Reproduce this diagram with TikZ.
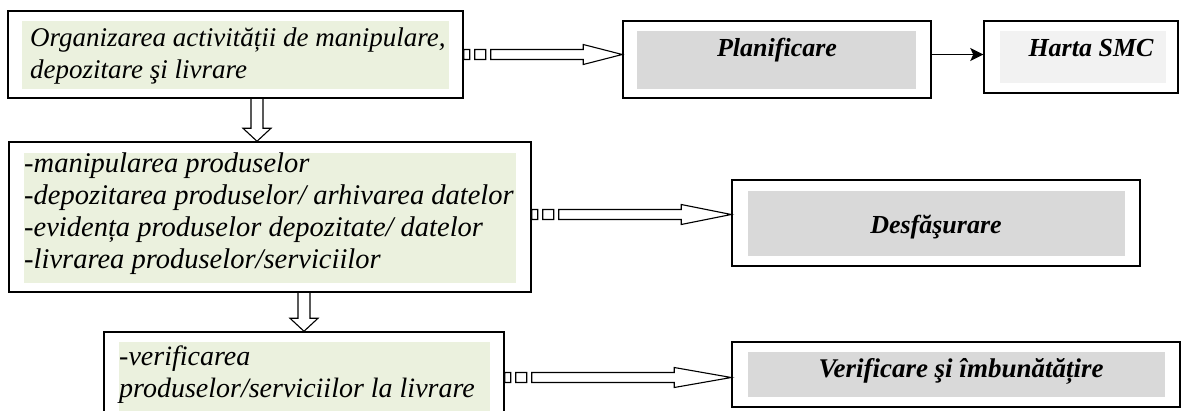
\documentclass[tikz,border=0pt]{standalone}
\usepackage{fontspec}
\setmainfont{Liberation Serif}
\usepackage{tikz}
\usetikzlibrary{positioning}
\usetikzlibrary{calc}
\usetikzlibrary{arrows.meta}

\definecolor{greenfill}{HTML}{EBF1DE}
\definecolor{grayfill}{HTML}{D9D9D9}
\definecolor{lightfill}{HTML}{F2F2F2}

\begin{document}
\begin{tikzpicture}[
    x=1pt, y=-1pt,
    frame/.style={
        draw,
        line width=1.5pt,
        inner sep=0pt
    },
    bg/.style={
        fill=#1,
        inner sep=0pt
    },
    body/.style={
        font=\fontsize{#1}{32}\selectfont\itshape,
        align=left,
        inner sep=0pt,
        anchor=base west
    },
    body/.default=28,
    title/.style={
        font=\fontsize{#1}{32}\selectfont\bfseries\itshape,
        inner sep=0pt,
        anchor=base
    },
    title/.default=26,
    hollowright/.style={
        line width=1.1pt,
        to path={
            let \p1=(\tikztostart), \p2=(\tikztotarget) in
            (\x1,\y1-5pt) rectangle (\x1+6pt,\y1+5pt)
            (\x1+11pt,\y1-5pt) rectangle (\x1+22pt,\y1+5pt)
            (\x1+27pt,\y1-5pt) -- (\x2-#1,\y1-5pt) -- (\x2-#1,\y1-10pt)
            -- (\x2,\y1) -- (\x2-#1,\y1+10pt) -- (\x2-#1,\y1+5pt)
            -- (\x1+27pt,\y1+5pt) -- cycle
        }
    },
    hollowright/.default=45pt,
    hollowdown/.style={
        line width=1.1pt,
        to path={
            let \p1=(\tikztostart), \p2=(\tikztotarget) in
            (\x1-6pt,\y1) -- (\x1-6pt,\y2+13pt) -- (\x1-14pt,\y2+13pt)
            -- (\x1,\y2) -- (\x1+14pt,\y2+13pt) -- (\x1+6pt,\y2+13pt)
            -- (\x1+6pt,\y1)
        }
    }
]

\useasboundingbox (0,0) rectangle (1186,410);

% Main nodes (text nodes sit on the baseline of their last line)
\node[frame, minimum width=455pt, minimum height=87pt] (org) at (235.5,54.5) {};
\node[bg=greenfill, minimum width=427pt, minimum height=68pt] (orgbg) at (235.5,55) {};
\node[body=27] (orgtext) at (30,78) {Organizarea activității de manipulare,\\depozitare şi livrare};

\node[frame, minimum width=308pt, minimum height=77pt] (plan) at (777,59.5) {};
\node[bg=grayfill, minimum width=279pt, minimum height=58pt] (planbg) at (776.5,60) {};
\node[title] (plantext) at (777,56) {Planificare};

\node[frame, minimum width=194pt, minimum height=72pt] (harta) at (1081,57) {};
\node[bg=lightfill, minimum width=166pt, minimum height=52pt] (hartabg) at (1083,57) {};
\node[title] (hartatext) at (1091,56) {Harta SMC};

\node[frame, minimum width=522pt, minimum height=150pt] (ops) at (270,217) {};
\node[bg=greenfill, minimum width=492pt, minimum height=130pt] (opsbg) at (270,218) {};
\node[body=28.5] (opstext) at (24,268) {-manipularea produselor\\-depozitarea produselor/ arhivarea datelor\\-evidența produselor depozitate/ datelor\\-livrarea produselor/serviciilor};

\node[frame, minimum width=408pt, minimum height=86pt] (desf) at (936,223) {};
\node[bg=grayfill, minimum width=377pt, minimum height=65pt] (desfbg) at (936.5,223.5) {};
\node[title] (desftext) at (936,233) {Desfăşurare};

\node[frame, minimum width=400pt, minimum height=91pt] (check) at (304,377.5) {};
\node[bg=greenfill, minimum width=371pt, minimum height=71pt] (checkbg) at (304.5,377.5) {};
\node[body] (checktext) at (119,397) {-verificarea\\produselor/serviciilor la livrare};

\node[frame, minimum width=448pt, minimum height=65pt] (verif) at (956,374.5) {};
\node[bg=grayfill, minimum width=417pt, minimum height=45pt] (verifbg) at (956.5,374.5) {};
\node[title=27] (veriftext) at (961,377) {Verificare şi îmbunătățire};

% Arrows
\draw[hollowright=39pt] (org.east) to (plan.west);
\draw[hollowright=50pt] ([yshift=2.5pt]ops.east) to (desf.west);
\draw[hollowright=57pt] (check.east) to (verif.west);
\draw[hollowdown] ([xshift=21.5pt]org.south) to (ops.north);
\draw[hollowdown] (ops.south -| check.north) to (check.north);
\draw[-{Stealth[length=13pt,width=13pt,inset=3pt]}, line width=1.1pt] ([yshift=5pt]plan.east) -- ([yshift=5pt]plan.east -| harta.west);

\end{tikzpicture}
\end{document}
